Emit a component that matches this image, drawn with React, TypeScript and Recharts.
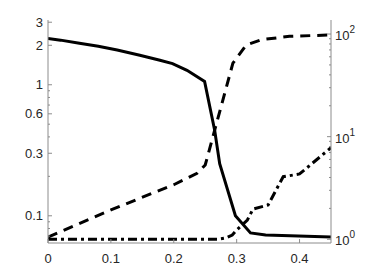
import { Line, LineChart, XAxis, YAxis } from 'recharts';

// solid curve, left (log) axis
const solidX = [0, 0.02, 0.05, 0.08, 0.11, 0.146, 0.178, 0.198, 0.221, 0.249, 0.265, 0.273, 0.298, 0.322, 0.346, 0.45];
const solidY = [2.25, 2.19, 2.07, 1.97, 1.84, 1.68, 1.54, 1.45, 1.29, 1.06, 0.45, 0.25, 0.1, 0.074, 0.0715, 0.069];

// dashed curve, right axis
const dashedX = [0, 0.1, 0.167, 0.2, 0.237, 0.25, 0.263, 0.294, 0.315, 0.339, 0.384, 0.45];
const dashedY = [1.05, 1.93, 2.83, 3.4, 4.4, 5.3, 10.4, 52, 78, 88, 95, 98];

// dash-dot curve, right axis
const dashDotX = [0, 0.27, 0.283, 0.293, 0.3, 0.317, 0.326, 0.35, 0.374, 0.4, 0.45];
const dashDotY = [1, 1, 1.03, 1.1, 1.23, 1.54, 1.97, 2.16, 4.07, 4.33, 7.8];

const xTicks = [0, 0.1, 0.2, 0.3, 0.4];
const leftMajor = [0.1, 0.3, 0.6, 1, 2, 3];
const leftMinor = [0.07, 0.08, 0.09, 0.2, 0.4, 0.5, 0.7, 0.8, 0.9];
const rightMajor = [1, 10, 100];
const rightMinor = [2, 3, 4, 5, 6, 7, 8, 9, 20, 30, 40, 50, 60, 70, 80, 90];

const AXIS = '#8c8c8c';
const TEXT = '#262626';
const FONT = '"Liberation Sans", Arial, sans-serif';

const toPoints = (xs: number[], ys: number[]) => xs.map((x, i) => ({ x, y: ys[i] }));

const solid = toPoints(solidX, solidY);
const dashed = toPoints(dashedX, dashedY);
const dashDot = toPoints(dashDotX, dashDotY);

const LeftTick = ({ x, y, payload }: any) => {
  const major = leftMajor.includes(payload.value);
  return (
    <g>
      <line x1={x} x2={x + (major ? 4 : 2)} y1={y} y2={y} stroke={AXIS} />
      {major && (
        <text x={x - 5} y={y} dy={4.5} textAnchor='end' fill={TEXT} fontSize={13} fontFamily={FONT}>
          {payload.value}
        </text>
      )}
    </g>
  );
};

const RightTick = ({ x, y, payload }: any) => {
  const major = rightMajor.includes(payload.value);
  return (
    <g>
      <line x1={x} x2={x - (major ? 4 : 2)} y1={y} y2={y} stroke={AXIS} />
      {major && (
        <text x={x + 4} y={y} dy={6} textAnchor='start' fill={TEXT} fontSize={13} fontFamily={FONT}>
          10
          <tspan dy={-7} fontSize={10}>
            {Math.round(Math.log10(payload.value))}
          </tspan>
        </text>
      )}
    </g>
  );
};

const BottomTick = ({ x, y, payload }: any) => (
  <g>
    <line x1={x} x2={x} y1={y} y2={y - 4} stroke={AXIS} />
    <text x={x} y={y} dy={19.5} textAnchor='middle' fill={TEXT} fontSize={13} fontFamily={FONT}>
      {payload.value}
    </text>
  </g>
);

const TopTick = ({ x, y }: any) => <line x1={x} x2={x} y1={y} y2={y + 4} stroke={AXIS} />;

export default function App() {
  return (
    <div style={{ position: 'absolute', left: 0, top: 0 }}>
      <LineChart width={366} height={274} margin={{ top: 20, right: 0, bottom: 0, left: 0 }}>
        <XAxis
          dataKey='x'
          type='number'
          domain={[0, 0.45]}
          ticks={xTicks}
          interval={0}
          height={31}
          stroke={AXIS}
          tickLine={false}
          tickSize={0}
          tickMargin={0}
          tick={<BottomTick />}
          allowDataOverflow
        />
        <XAxis
          xAxisId='top'
          orientation='top'
          type='number'
          domain={[0, 0.45]}
          ticks={xTicks.slice(1)}
          interval={0}
          height={0}
          stroke={AXIS}
          tickLine={false}
          tickSize={0}
          tickMargin={0}
          tick={<TopTick />}
        />
        <YAxis
          yAxisId='left'
          scale='log'
          domain={[0.062, 3.12]}
          ticks={[...leftMinor, ...leftMajor]}
          interval={0}
          width={48}
          stroke={AXIS}
          tickLine={false}
          tickSize={0}
          tickMargin={0}
          tick={<LeftTick />}
          allowDataOverflow
        />
        <YAxis
          yAxisId='right'
          orientation='right'
          scale='log'
          domain={[0.92, 137]}
          ticks={[...rightMinor, ...rightMajor]}
          interval={0}
          width={35}
          stroke={AXIS}
          tickLine={false}
          tickSize={0}
          tickMargin={0}
          tick={<RightTick />}
          allowDataOverflow
        />
        <Line
          data={solid}
          dataKey='y'
          yAxisId='left'
          type='linear'
          stroke='#000'
          strokeWidth={3}
          dot={false}
          activeDot={false}
          isAnimationActive={false}
        />
        <Line
          data={dashed}
          dataKey='y'
          yAxisId='right'
          type='linear'
          stroke='#000'
          strokeWidth={3}
          strokeDasharray='10 7'
          dot={false}
          activeDot={false}
          isAnimationActive={false}
        />
        <Line
          data={dashDot}
          dataKey='y'
          yAxisId='right'
          type='linear'
          stroke='#000'
          strokeWidth={3}
          strokeDasharray='9 4 3 4'
          dot={false}
          activeDot={false}
          isAnimationActive={false}
        />
      </LineChart>
    </div>
  );
}
